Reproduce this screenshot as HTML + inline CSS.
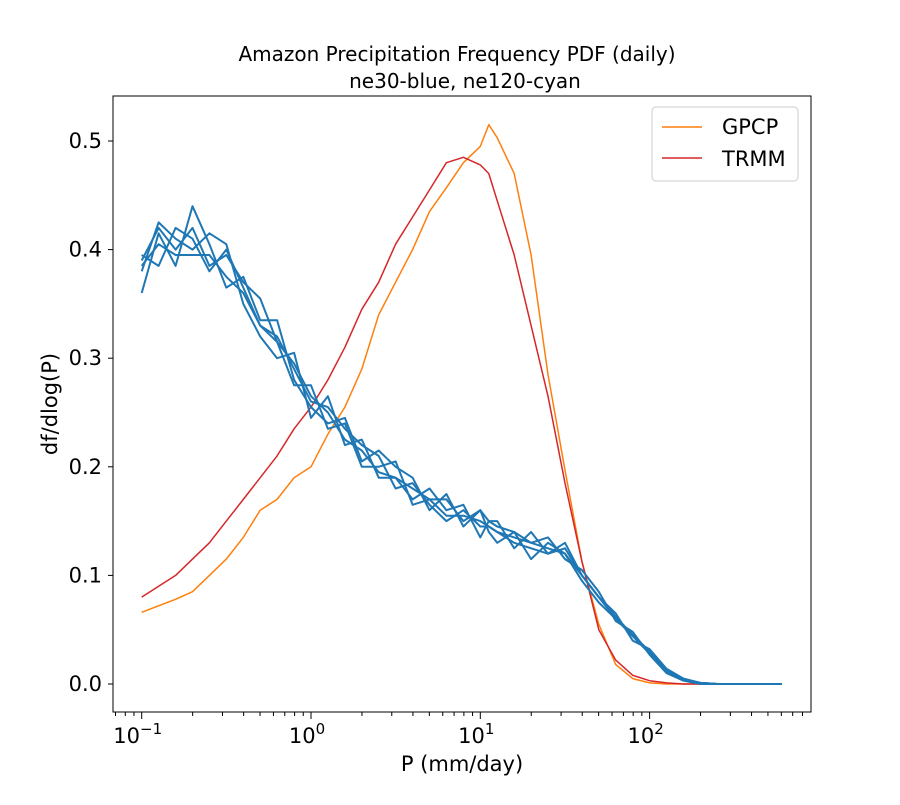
<!DOCTYPE html>
<html><head><meta charset="utf-8"><style>
body{margin:0;background:#fff;}
svg text{font-family:"DejaVu Sans","Liberation Sans",sans-serif;fill:#000;}
</style></head><body>
<svg id="chart" width="900" height="800">
<rect x="0" y="0" width="900" height="800" fill="#fff"/>
<text x="457" y="61" font-size="20" text-anchor="middle">Amazon Precipitation Frequency PDF (daily)</text>
<text x="465" y="88" font-size="20" text-anchor="middle">ne30-blue, ne120-cyan</text>
<g id="plot"></g>
<rect x="113" y="96" width="698" height="616" fill="none" stroke="#000" stroke-width="1"/>
<text x="462" y="771" font-size="21" text-anchor="middle">P (mm/day)</text>
<text transform="translate(57,404) rotate(-90)" font-size="21" text-anchor="middle">df/dlog(P)</text>
<g>
<rect x="652" y="107" width="146" height="74" rx="4" fill="#fff" stroke="#ccc"/>
<line x1="662" y1="127" x2="702" y2="127" stroke="#ff7f0e" stroke-width="1.5"/>
<text x="722" y="134" font-size="21">GPCP</text>
<line x1="662" y1="158" x2="702" y2="158" stroke="#d62728" stroke-width="1.5"/>
<text x="722" y="166" font-size="21">TRMM</text>
</g>
</svg>
<script>
const logP=[-1,-0.9,-0.8,-0.7,-0.6,-0.5,-0.4,-0.3,-0.2,-0.1,0,0.1,0.2,0.3,0.4,0.5,0.6,0.7,0.8,0.9,1.0,1.05,1.1,1.2,1.3,1.4,1.5,1.6,1.7,1.8,1.9,2.0,2.1,2.2,2.3,2.4,2.5,2.6,2.7,2.78];
const gpcp=[0.066,0.072,0.078,0.085,0.1,0.115,0.135,0.16,0.17,0.19,0.2,0.23,0.255,0.29,0.34,0.37,0.4,0.435,0.457,0.48,0.495,0.515,0.503,0.47,0.395,0.285,0.197,0.113,0.055,0.018,0.005,0.001,0,0,0,0,0,0,0,0];
const trmm=[0.08,0.09,0.1,0.115,0.13,0.15,0.17,0.19,0.21,0.235,0.255,0.28,0.31,0.345,0.37,0.405,0.43,0.455,0.48,0.485,0.478,0.47,0.445,0.395,0.33,0.265,0.185,0.113,0.05,0.022,0.008,0.003,0.001,0,0,0,0,0,0,0];
const ens1=[0.39,0.42,0.4,0.42,0.385,0.395,0.37,0.355,0.315,0.295,0.265,0.25,0.225,0.215,0.195,0.19,0.18,0.17,0.155,0.155,0.15,0.145,0.14,0.13,0.125,0.12,0.125,0.1,0.08,0.062,0.045,0.03,0.012,0.004,0.001,0,0,0,0,0];
const ens2=[0.36,0.415,0.385,0.44,0.405,0.365,0.375,0.335,0.335,0.28,0.255,0.24,0.245,0.205,0.215,0.2,0.19,0.16,0.175,0.145,0.16,0.15,0.145,0.14,0.13,0.135,0.115,0.105,0.085,0.058,0.048,0.027,0.01,0.003,0,0,0,0,0,0];
const ens3=[0.38,0.425,0.41,0.4,0.415,0.405,0.35,0.32,0.3,0.305,0.245,0.265,0.22,0.225,0.19,0.19,0.17,0.18,0.16,0.165,0.135,0.15,0.15,0.125,0.14,0.12,0.13,0.1,0.08,0.065,0.04,0.032,0.014,0.005,0.001,0,0,0,0,0];
const ens4=[0.395,0.385,0.42,0.41,0.38,0.4,0.365,0.33,0.315,0.275,0.275,0.235,0.24,0.2,0.2,0.205,0.165,0.17,0.17,0.15,0.16,0.14,0.13,0.14,0.115,0.13,0.12,0.095,0.075,0.06,0.045,0.03,0.012,0.004,0.001,0,0,0,0,0];
const ens5=[0.385,0.405,0.395,0.395,0.395,0.375,0.36,0.33,0.32,0.29,0.26,0.255,0.235,0.22,0.21,0.18,0.185,0.165,0.15,0.16,0.145,0.145,0.14,0.135,0.13,0.125,0.12,0.1,0.08,0.06,0.044,0.028,0.011,0.004,0.001,0,0,0,0,0];
const yTicks=[0,0.1,0.2,0.3,0.4,0.5];
const xDecades=[-1,0,1,2];

const NS="http://www.w3.org/2000/svg";
const g=document.getElementById('plot');
function X(lp){return 311+169.3*lp;}
function Y(v){return 684-1086*v;}
function mk(t,a){const e=document.createElementNS(NS,t);for(const k in a)e.setAttribute(k,a[k]);g.appendChild(e);return e;}
function line(arr,color,w,name){
  const d=arr.map((v,i)=>(i?'L':'M')+X(logP[i]).toFixed(1)+','+Y(v).toFixed(1)).join('');
  const p=mk('path',{d:d,fill:'none',stroke:color,'stroke-width':w,'stroke-linejoin':'round'});
  
  
}
line(gpcp,'#ff7f0e',1.5,'gpcp-line');
line(trmm,'#d62728',1.5,'trmm-line');
[ens1,ens2,ens3,ens4,ens5].forEach((s,i)=>line(s,'#1f77b4',2,'ne30-member-'+(i+1)));
yTicks.forEach(v=>{
  mk('line',{x1:113,x2:108,y1:Y(v),y2:Y(v),stroke:'#000'});
  const t=mk('text',{x:102,y:Y(v)+7,'font-size':21,'text-anchor':'end'});
  t.textContent=v.toFixed(1);
  
  
});
xDecades.forEach(d=>{
  mk('line',{x1:X(d),x2:X(d),y1:712,y2:719,stroke:'#000'});
  const t=mk('text',{x:X(d)-4,y:743,'font-size':21,'text-anchor':'middle'});
  t.textContent='10';
  const s=document.createElementNS(NS,'tspan');
  s.setAttribute('dy','-9');s.setAttribute('font-size','15');
  s.textContent=d<0?'\u22121':String(d);
  t.appendChild(s);
  
  
});
for(let d=-2;d<=2;d++){for(let m=2;m<=9;m++){const lp=d+Math.log10(m);const x=X(lp);if(x>113&&x<811)mk('line',{x1:x,x2:x,y1:712,y2:716,stroke:'#000'});}}
</script>
</body></html>
